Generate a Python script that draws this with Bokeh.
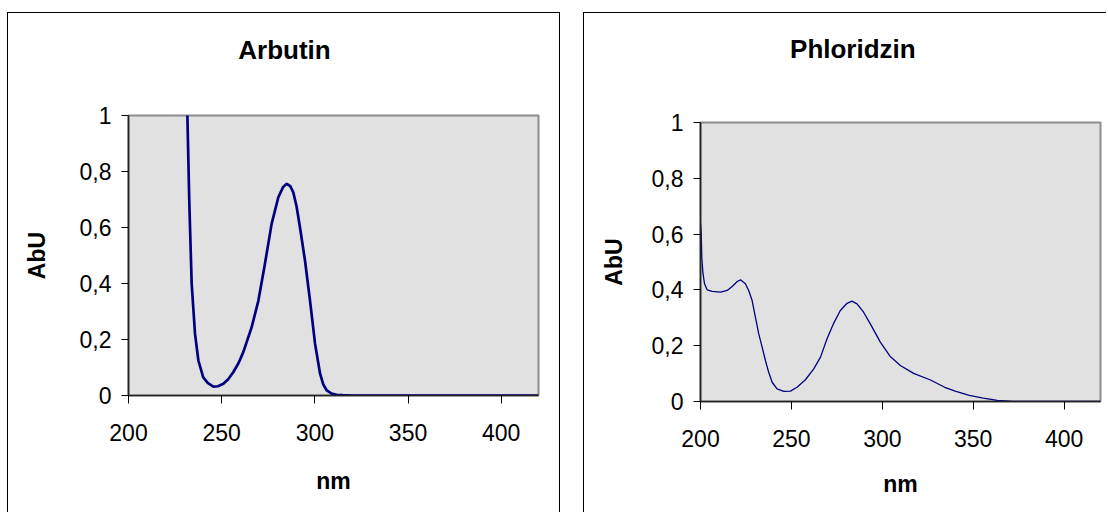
from bokeh.plotting import figure
from bokeh.layouts import row, column
from bokeh.models import Range1d, FixedTicker, Spacer
from bokeh.core.properties import value
from bokeh.embed import file_html
from bokeh.resources import INLINE

# ---------------- data ----------------
arbutin_nm = [231.2, 231.6, 232.6, 233.9, 235.7, 237.5, 240.1, 242.5, 245.5, 248.0, 250.9,
              253.5, 256.2, 259.0, 261.6, 266.1, 269.7, 273.2, 276.8, 280.4, 283.0, 284.9,
              286.8, 288.4, 290.2, 292.0, 294.7, 297.4, 300.1, 302.8, 304.5, 306.4, 309.0,
              311.7, 315.0, 320.0, 340.0, 360.0, 380.0, 400.0, 420.0]
arbutin_abu = [1.12, 1.0, 0.696, 0.399, 0.22, 0.125, 0.065, 0.045, 0.032, 0.033, 0.042,
               0.058, 0.083, 0.115, 0.155, 0.244, 0.339, 0.47, 0.613, 0.708, 0.745, 0.756,
               0.748, 0.726, 0.675, 0.601, 0.482, 0.339, 0.185, 0.078, 0.040, 0.018, 0.007,
               0.0025, 0.001, 0.0, 0.0, 0.0, 0.0, 0.0, 0.0]

phloridzin_nm = [200.0, 200.4, 200.7, 201.3, 202.2, 203.7, 206.4, 211.0, 214.7, 217.4, 220.2,
                 222.0, 224.7, 226.5, 228.4, 230.2, 232.0, 233.9, 235.7, 237.5, 239.4, 242.1,
                 245.8, 249.5, 253.1, 257.7, 262.3, 266.0, 269.6, 273.3, 276.9, 280.6, 283.3,
                 286.1, 289.7, 293.4, 298.9, 304.4, 309.9, 317.2, 326.5, 334.3, 340.1, 347.8,
                 355.5, 363.2, 372.0, 390.0, 420.0]
phloridzin_abu = [0.64, 0.601, 0.517, 0.463, 0.422, 0.40, 0.395, 0.392, 0.398, 0.412, 0.43,
                  0.436, 0.422, 0.398, 0.362, 0.302, 0.243, 0.195, 0.147, 0.105, 0.069, 0.045,
                  0.036, 0.037, 0.051, 0.078, 0.117, 0.159, 0.225, 0.281, 0.326, 0.352, 0.36,
                  0.35, 0.32, 0.278, 0.213, 0.161, 0.129, 0.101, 0.077, 0.051, 0.037, 0.022,
                  0.012, 0.004, 0.0, 0.0, 0.0]

titles = ["Arbutin", "Phloridzin"]
x_ticks = [200, 250, 300, 350, 400]
y_ticks = [0, 0.2, 0.4, 0.6, 0.8, 1]
y_tick_labels = ["0", "0,2", "0,4", "0,6", "0,8", "1"]

FONT = "Liberation Sans"
TITLE_H = 80
TOTAL_H = 499
X_MIN, X_MAX = 200, 420


def title_fig(text, width, tx, ty):
    t = figure(width=width, height=TITLE_H, output_backend="svg", toolbar_location=None,
               x_range=Range1d(X_MIN, X_MAX), y_range=Range1d(0, TITLE_H),
               x_axis_type=None, y_axis_type=None, min_border=0,
               outline_line_color=None, background_fill_color="white",
               border_fill_color="white")
    t.grid.visible = False
    t.text(x=[tx], y=[ty], text=[text], text_font=value(FONT), text_font_size="26px",
           text_font_style="bold", text_align="center", text_baseline="alphabetic",
           text_color="black")
    return t


def make_panel(xs, ys, line_width, width, ml, mr, mt, mb, ylab_standoff, xlab_standoff):
    p = figure(width=width, height=TOTAL_H - TITLE_H, output_backend="svg",
               toolbar_location=None,
               x_range=Range1d(X_MIN, X_MAX), y_range=Range1d(0, 1),
               min_border_left=ml, min_border_right=mr,
               min_border_top=mt, min_border_bottom=mb,
               background_fill_color="#e1e1e1", border_fill_color="white")
    p.outline_line_color = "#8c8c8c"
    p.outline_line_width = 2
    p.grid.visible = False

    p.line(xs, ys, line_color="#000080", line_width=line_width)

    p.xaxis.ticker = FixedTicker(ticks=x_ticks)
    p.yaxis.ticker = FixedTicker(ticks=y_ticks)
    p.yaxis.major_label_overrides = {t: l for t, l in zip(y_ticks, y_tick_labels)}

    for ax in (p.xaxis, p.yaxis):
        ax.axis_line_color = "#222222"
        ax.axis_line_width = 1.6
        ax.major_tick_line_color = "black"
        ax.major_tick_line_width = 1
        ax.major_tick_in = 0
        ax.minor_tick_line_color = None
        ax.major_label_text_font = FONT
        ax.major_label_text_font_size = "23px"
        ax.major_label_text_color = "black"
        ax.axis_label_text_font = FONT
        ax.axis_label_text_font_size = "23px"
        ax.axis_label_text_font_style = "bold"
        ax.axis_label_text_color = "black"

    p.xaxis.major_tick_out = 8
    p.yaxis.major_tick_out = 7
    p.xaxis.major_label_standoff = 20
    p.yaxis.major_label_standoff = 10
    p.xaxis.axis_label = "nm"
    p.yaxis.axis_label = "AbU"
    p.xaxis.axis_label_standoff = xlab_standoff
    p.yaxis.axis_label_standoff = ylab_standoff
    return p


W1, W2 = 551, 522

t1 = title_fig(titles[0], W1, 283.7, TITLE_H - 36)
p1 = make_panel(arbutin_nm, arbutin_abu, 2.7, W1, 120, 21, 102 - TITLE_H,
                TOTAL_H - 102 - 280, 27, 24)
t2 = title_fig(titles[1], W2, 283.8, TITLE_H - 35)
p2 = make_panel(phloridzin_nm, phloridzin_abu, 1.3, W2, 116, 6, 109 - TITLE_H,
                TOTAL_H - 109 - 279, 22, 21)

c1 = column(t1, p1, spacing=0)
c1.styles = {"border-left": "1px solid black", "border-top": "1px solid black",
             "border-right": "1px solid black"}
c1.margin = (12, 0, 0, 7)
c2 = column(t2, p2, spacing=0)
c2.styles = {"border-left": "1px solid black", "border-top": "1px solid black"}
c2.margin = (12, 0, 0, 0)

layout = row(c1, Spacer(width=23, height=10), c2)

open("out.html", "w").write(file_html(layout, INLINE))
